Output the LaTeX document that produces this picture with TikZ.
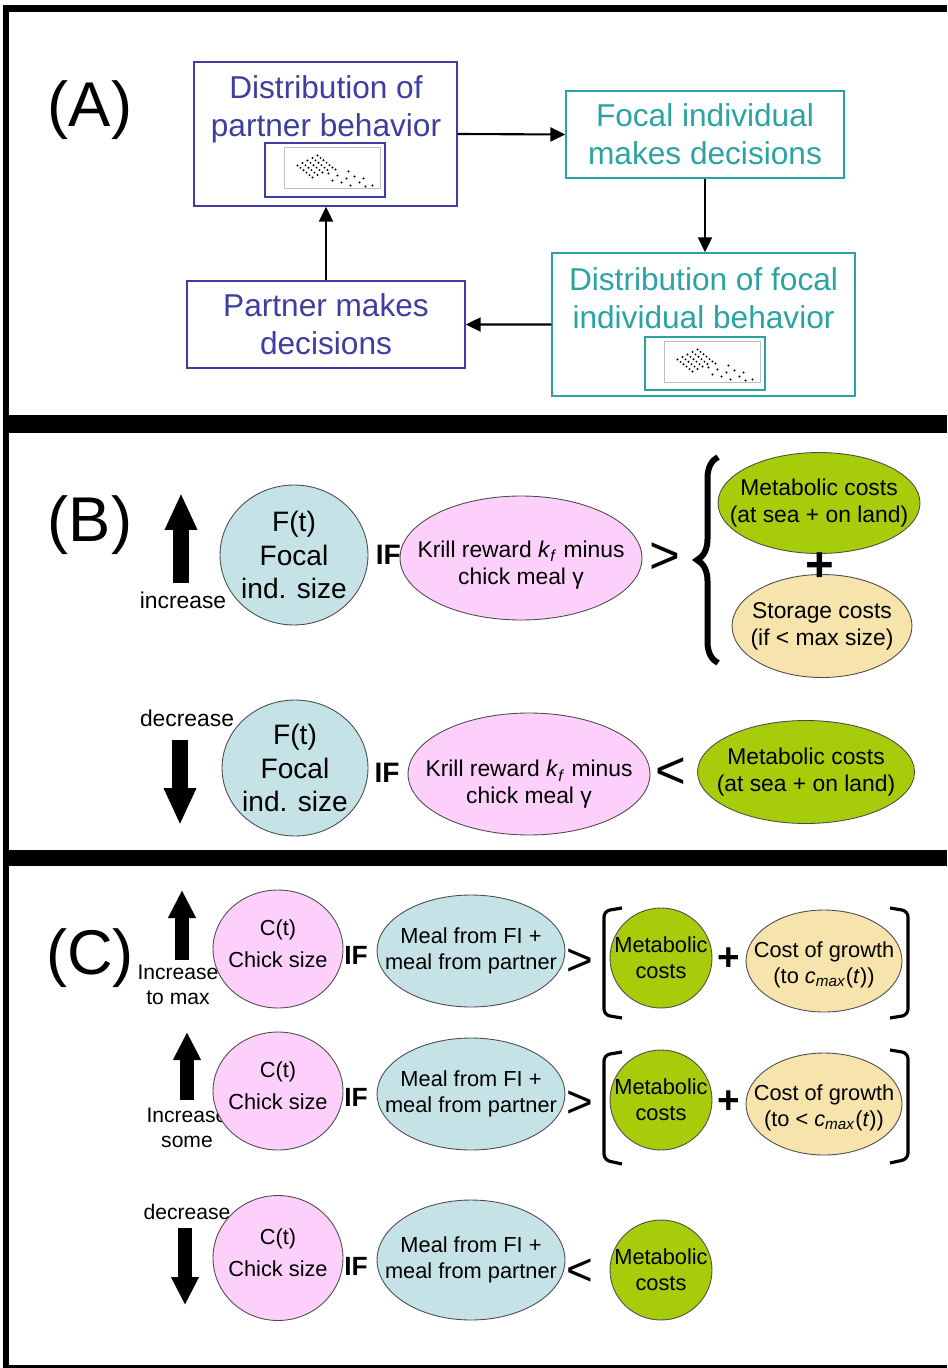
\documentclass[tikz,border=0pt]{standalone}
\usepackage{fontspec}
\setmainfont{Liberation Sans}
\usepackage{tikz}
\usetikzlibrary{positioning,arrows.meta,fit,calc,shapes.geometric,decorations.pathreplacing}

\definecolor{ptblue}{RGB}{62,62,160}
\definecolor{fiteal}{RGB}{43,163,163}
\definecolor{sizeblue}{RGB}{197,227,231}
\definecolor{krillpink}{RGB}{253,208,252}
\definecolor{metgreen}{RGB}{166,204,10}
\definecolor{costbeige}{RGB}{246,228,172}

\begin{document}
\begin{tikzpicture}[x=0.02cm,y=-0.02cm,
    abox/.style={draw,line width=0.8pt,inner sep=0pt},
    atx/.style={align=center,font=\fontsize{18}{21.6}\selectfont},
    aarr/.style={line width=1.2pt,-{Triangle[length=0.3cm,width=0.28cm]}},
    lettx/.style={font=\fontsize{36}{40}\selectfont},
    ov/.style={ellipse,draw=black!70,line width=0.5pt,inner sep=0pt},
    ftx/.style={align=center,font=\fontsize{16}{19}\selectfont},
    etx/.style={align=center,font=\fontsize{13}{15.4}\selectfont},
    ctx/.style={align=center,font=\fontsize{12.4}{14.8}\selectfont},
    smtx/.style={align=center,font=\fontsize{13}{15.4}\selectfont},
    smtxc/.style={align=center,font=\fontsize{12}{14.6}\selectfont},
    iftx/.style={inner sep=0pt,font=\bfseries\fontsize{16}{18}\selectfont},
    iftxc/.style={inner sep=0pt,font=\bfseries\fontsize{15}{17}\selectfont},
    cmptx/.style={font=\fontsize{30}{32}\selectfont},
    cmptxc/.style={font=\fontsize{26}{28}\selectfont},
    plstx/.style={font=\bfseries\fontsize{28}{30}\selectfont},
    plstxc/.style={font=\bfseries\fontsize{22}{24}\selectfont},
    bigarr/.style={line width=0.32cm,-{Triangle[length=0.74cm,width=0.6cm]}},
    bigarrc/.style={line width=0.28cm,-{Triangle[length=0.56cm,width=0.52cm]}},
    brace/.style={line width=3.4pt,decorate,decoration={brace,amplitude=0.42cm}},
    brk/.style={line width=1.8pt,rounded corners=0.12cm}]
    \useasboundingbox (0,0) rectangle (947,1368);

    % frame and panel separators
    \fill (3,5) rectangle (947,12);
    \fill (3,5) rectangle (9,1368);
    \fill (9,415) rectangle (947,433);
    \fill (9,850) rectangle (947,866);
    \fill (3,1365) rectangle (947,1368);

    % (A) feedback loop
    \node[lettx] (la) at (90,110) {(A)};
    \node[atx,text=ptblue] (pdisttx) at (326,109) {Distribution of\\partner behavior};
    \node[abox,draw=ptblue,fit={(194,62) (457,206)}] (pdist) {};
    \node[abox,draw=ptblue,line width=0.6pt,minimum width=2.4cm,minimum height=1.08cm] (pthumb) at (325,170) {};
    \node[abox,atx,draw=fiteal,text=fiteal,minimum width=5.56cm,minimum height=1.74cm] (fdec) at (705,134.5) {Focal individual\\makes decisions};
    \node[atx,text=fiteal] (fdisttx) at (703.5,298) {Distribution of focal\\individual behavior};
    \node[abox,draw=fiteal,fit={(552,253) (855,396)}] (fdist) {};
    \node[abox,draw=fiteal,line width=0.6pt,minimum width=2.4cm,minimum height=1.06cm] (fthumb) at (705,363.5) {};
    \node[abox,atx,draw=ptblue,text=ptblue,minimum width=5.56cm,minimum height=1.74cm] (pdec) at (326,324.5) {Partner makes\\decisions};
    \foreach \th in {pthumb,fthumb}{
        \begin{scope}[shift={(\th.north west)}]
            \draw[black!25,line width=0.3pt] (20,5) rectangle (116,46);
            \foreach \b in {0,...,4}
                \foreach \k in {0,...,5}
                    \fill (33+\b*5+\k*3,23-\b*2.5+\k*2.4) circle (0.6pt);
            \foreach \p in {(64,31),(68,38),(73,33),(77,40),(82,36),(86,43),(90,34),(95,40),(101,44),(108,43),(71,27),(84,29),(99,36)}
                \fill \p circle (0.6pt);
        \end{scope}
    }
    \draw[aarr] (pdist.east) -- (fdec.west);
    \draw[aarr] (fdec.south) -- (fdec.south |- fdist.north);
    \draw[aarr] (fdist.west) -- (pdec.east);
    \draw[aarr] (pdec.north) -- (pdec.north |- pdist.south);

    % (B) focal individual size
    \node[lettx] (lb) at (90,525) {(B)};
    \draw[bigarr] (181,583) -- (181,493);
    \node[smtx] (incb) at (183,600) {increase};
    \node[ov,fill=sizeblue,minimum width=2.96cm,minimum height=2.8cm,label={[ftx]center:F(t)\\Focal\\ind. size}] (bF1) at (294,555) {};
    \node[iftx,right=0.14cm of bF1] (bif1) {IF};
    \node[ov,fill=krillpink,minimum width=4.84cm,minimum height=2.48cm,label={[etx,yshift=-4pt]center:Krill reward \textit{k}\textsubscript{\textit{f}} minus\\chick meal γ}] (bK1) at (521,558) {};
    \node[cmptx,right=0.02cm of bK1] (bgt) {>};
    \draw[brace] (718,663) -- (718,457);
    \node[ov,fill=metgreen,minimum width=4.04cm,minimum height=2.02cm,label={[etx]center:Metabolic costs\\(at sea + on land)}] (bM1) at (819,503) {};
    \node[ov,fill=costbeige,minimum width=3.6cm,minimum height=2.06cm,label={[etx]center:Storage costs\\(if < max size)}] (bS1) at (822,626) {};
    \node[plstx] (bplus) at (820,567) {+};

    \node[smtx] (decb) at (187,718) {decrease};
    \draw[bigarr] (180,740) -- (180,825);
    \node[ov,fill=sizeblue,minimum width=2.92cm,minimum height=2.72cm,label={[ftx]center:F(t)\\Focal\\ind. size}] (bF2) at (295,768) {};
    \node[iftx] (bif2) at (387,773) {IF};
    \node[ov,fill=krillpink,minimum width=4.84cm,minimum height=2.44cm,label={[etx,yshift=-6pt]center:Krill reward \textit{k}\textsubscript{\textit{f}} minus\\chick meal γ}] (bK2) at (529,774) {};
    \node[cmptx] (blt) at (671,773) {<};
    \node[ov,fill=metgreen,minimum width=4.34cm,minimum height=2.06cm,label={[etx]center:Metabolic costs\\(at sea + on land)}] (bM2) at (806,772) {};

    % (C) chick size
    \node[lettx] (lc) at (90,958) {(C)};
    \draw[bigarrc] (182,960) -- (182,890);
    \node[smtxc] (incc1) at (178,985) {Increase\\to max};
    \node[ov,fill=krillpink,minimum width=2.6cm,minimum height=2.36cm,label={[ctx,yshift=3pt]center:C(t)\\[3pt]Chick size}] (cC1) at (278,949) {};
    \node[iftxc] (cif1) at (356,955) {IF};
    \node[ov,fill=sizeblue,minimum width=3.76cm,minimum height=2.24cm,label={[ctx]center:Meal from FI +\\meal from partner}] (cM1) at (471,951) {};
    \node[cmptxc] (cgt1) at (580,962) {>};
    \draw[brk] (622,908) -- (604,911) -- (604,1015) -- (622,1018);
    \node[ov,fill=metgreen,minimum width=2.04cm,minimum height=2cm,label={[ctx]center:Metabolic\\costs}] (cG1) at (661,958) {};
    \node[ov,fill=costbeige,minimum width=3.12cm,minimum height=2.04cm,label={[ctx,yshift=-2pt]center:Cost of growth\\(to \textit{c}\textsubscript{\textit{max}}(\textit{t}))}] (cW1) at (824,961) {};
    \node[plstxc] (cplus1) at ($(cG1.east)!0.5!(cW1.west)$) {+};
    \draw[brk] (890,908) -- (908,911) -- (908,1015) -- (890,1018);

    \draw[bigarrc] (187,1100) -- (187,1032);
    \node[smtxc] (incc2) at (187,1128) {Increase\\some};
    \node[ov,fill=krillpink,minimum width=2.6cm,minimum height=2.36cm,label={[ctx,yshift=3pt]center:C(t)\\[3pt]Chick size}] (cC2) at (278,1091) {};
    \node[iftxc] (cif2) at (356,1097) {IF};
    \node[ov,fill=sizeblue,minimum width=3.76cm,minimum height=2.24cm,label={[ctx]center:Meal from FI +\\meal from partner}] (cM2) at (471,1094) {};
    \node[cmptxc] (cgt2) at (580,1104) {>};
    \draw[brk] (622,1052) -- (604,1055) -- (604,1160) -- (622,1164);
    \node[ov,fill=metgreen,minimum width=2.04cm,minimum height=2cm,label={[ctx]center:Metabolic\\costs}] (cG2) at (661,1100) {};
    \node[ov,fill=costbeige,minimum width=3.12cm,minimum height=2.04cm,label={[ctx,yshift=-2pt]center:Cost of growth\\(to < \textit{c}\textsubscript{\textit{max}}(\textit{t}))}] (cW2) at (824,1104) {};
    \node[plstxc] (cplus2) at ($(cG2.east)!0.5!(cW2.west)$) {+};
    \draw[brk] (890,1050) -- (908,1053) -- (908,1159) -- (890,1163);

    \node[smtxc] (decc) at (187,1212) {decrease};
    \draw[bigarrc] (185,1228) -- (185,1305);
    \node[ov,fill=krillpink,minimum width=2.6cm,minimum height=2.5cm,label={[ctx,yshift=3pt]center:C(t)\\[3pt]Chick size}] (cC3) at (278,1258) {};
    \node[iftxc] (cif3) at (356,1266) {IF};
    \node[ov,fill=sizeblue,minimum width=3.76cm,minimum height=2.4cm,label={[ctx]center:Meal from FI +\\meal from partner}] (cM3) at (471,1260) {};
    \node[cmptxc] (clt) at (580,1272) {<};
    \node[ov,fill=metgreen,minimum width=2.04cm,minimum height=2cm,label={[ctx]center:Metabolic\\costs}] (cG3) at (661,1270) {};
\end{tikzpicture}
\end{document}
